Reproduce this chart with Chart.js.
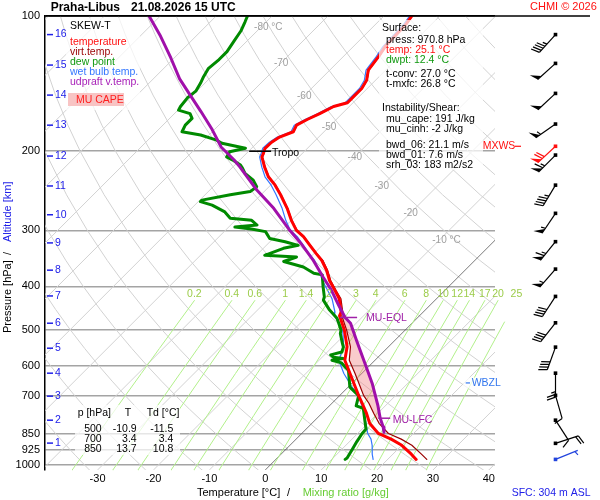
<!DOCTYPE html>
<html lang="cs">
<head>
<meta charset="utf-8">
<title>Praha-Libus skew-T</title>
<script src="https://cdn.jsdelivr.net/npm/chart.js@4.4.1/dist/chart.umd.min.js"></script>
<style>
  html, body { margin: 0; padding: 0; background: #fff; }
  canvas { display: block; }
</style>
</head>
<body>
<canvas id="skewt" width="600" height="500"></canvas>
<script>
// sounding (p in hPa, temperatures in degC)
const tempP = [100, 104, 117, 123, 132, 139, 145, 151, 156, 159, 165, 170, 175, 181, 186, 191, 197, 202, 206, 217,
    228, 238, 250, 268, 285, 300, 310, 324, 338, 350, 368, 388, 408, 426, 456, 465, 500, 545, 584, 625,
    669, 700, 728, 767, 808, 850, 875, 903, 945, 970.8];
const tempT = [-55.0, -54.6, -54.3, -53.7, -53.1, -51.6, -51.0, -51.0, -51.0, -52.8, -54.0, -55.2, -56.1, -55.5, -57.0, -57.5, -57.6, -57.0, -56.6, -54.3,
    -51.9, -49.2, -46.5, -42.9, -40.0, -37.3, -34.9, -32.2, -29.6, -27.4, -24.8, -22.4, -19.7, -17.4, -14.7, -14.3, -10.9, -7.4, -5.4, -2.1,
    1.2, 3.4, 5.4, 8.0, 10.4, 13.7, 17.0, 20.0, 23.3, 25.1];
const virtT = [-54.9, -54.5, -54.2, -53.6, -53.0, -51.5, -50.9, -50.9, -50.9, -52.7, -53.9, -55.1, -56.0, -55.4, -56.9, -57.4, -57.5, -56.9, -56.5, -54.2,
    -51.8, -49.1, -46.4, -42.8, -39.9, -37.2, -34.8, -32.1, -29.5, -27.2, -24.6, -22.2, -19.5, -17.1, -14.4, -13.9, -10.5, -6.8, -4.6, -1.2,
    2.1, 4.3, 6.6, 9.3, 12.1, 15.5, 18.8, 21.8, 25.1, 27.0];
const wetT = [-55.4, -55.0, -54.7, -54.1, -53.5, -52.0, -51.4, -51.4, -51.4, -53.2, -54.4, -55.6, -56.5, -55.9, -57.4, -57.9, -58.0, -57.4, -57.0, -54.8,
    -52.5, -49.9, -47.3, -43.8, -41.0, -38.4, -36.0, -33.4, -30.9, -28.7, -26.1, -23.7, -21.0, -18.7, -15.8, -15.2, -11.2, -8.0, -6.5, -3.2,
    0.6, 3.4, 5.2, 7.6, 9.7, 11.8, 13.4, 14.7, 16.3, 17.4];

const dewP = [100, 103, 108, 114, 120, 125, 131, 136.5, 141, 147, 152, 159, 162, 165, 169, 175, 181, 184, 189, 192,
    197, 200.5, 206, 209, 214.6, 218, 224, 232, 240, 246, 250, 257, 259, 263.6, 273, 282, 285, 292, 295, 298,
    302, 313, 318, 324, 329, 341, 344, 352, 362, 374, 377, 400, 422, 429, 450, 471, 480, 500, 509, 535,
    546, 560, 568, 575, 579, 584, 592, 604, 614, 670, 700, 738, 747, 794, 831, 850, 886, 923, 964, 970.8];
const dewT = [-84.4, -83.8, -82.9, -82.3, -81.7, -81.7, -82.0, -81.4, -80.8, -80.2, -80.5, -80.2, -79.9, -77.2, -76.0, -76.0, -75.4, -71.5, -67.7, -66.2,
    -61.1, -63.3, -62.9, -61.4, -59.0, -58.1, -56.7, -54.0, -52.2, -52.5, -55.5, -59.6, -59.6, -56.9, -53.4, -51.3, -47.1, -45.3, -48.9, -45.6,
    -42.6, -40.6, -37.3, -34.3, -36.4, -38.5, -32.5, -34.0, -29.5, -26.5, -24.7, -22.5, -20.4, -20.0, -17.3, -14.3, -13.4, -11.5, -11.0, -8.9,
    -8.0, -7.4, -8.9, -8.0, -6.0, -7.7, -5.5, -4.2, -3.0, 0.3, 3.4, 4.8, 6.5, 8.9, 10.7, 10.8, 11.3, 11.9, 12.5, 12.4];

// most unstable parcel (virtual temperature)
const parcelP = [100, 111, 124, 138, 150, 163, 179, 196, 209, 217, 244, 268, 300, 320, 350, 381, 408, 440, 469, 483,
    527, 594, 657, 738, 786, 822, 845];
const parcelT = [-102.0, -96.3, -90.6, -85.3, -80.5, -75.7, -70.4, -65.6, -61.1, -58.7, -51.6, -45.3, -38.5, -34.3, -28.9, -24.2, -20.3, -16.4, -13.0, -11.0,
    -6.9, -1.2, 3.6, 8.7, 11.3, 13.4, 14.5];
const eqlP = 469;
const lfcP = 786;
const tropoP = 200;
const wbzlP = 656;

// winds (direction in deg, speed in kt)
const windP = [110, 127.5, 148.7, 174, 195, 204, 238, 275, 318, 366, 421, 482, 546, 624, 699, 794, 894, 970.8];
const windDir = [222, 228, 227, 235, 227, 225, 211, 214, 219, 221, 213, 218, 200, 180, 164, 147, 72, 68];
const windKt = [45, 50, 50, 55, 70, 65, 45, 55, 65, 55, 40, 40, 40, 25, 10, 10, 20, 4];
const mxwsIndex = 4;

// axes and background lines
const pressureTicks = [100, 200, 300, 400, 500, 600, 700, 850, 925, 1000];
const tempTicks = [-30, -20, -10, 0, 10, 20, 30, 40];
const altKm = [1, 2, 3, 4, 5, 6, 7, 8, 9, 10, 11, 12, 13, 14, 15, 16];
const altP = [893, 794, 702, 624, 549, 483, 420, 368, 320, 277, 239, 205, 175, 150, 128.6, 110];
const isoT = [-120, -110, -100, -90, -80, -70, -60, -50, -40, -30, -20, -10, 0, 10, 20, 30, 40];
const isoLabelT = [-80, -70, -60, -50, -40, -30, -20, -10];
const isoLabelP = [105.8, 127.3, 150.6, 176.6, 206.1, 239.1, 274.6, 315.4];
const isoLabelText = ['-80 °C', '-70', '-60', '-50', '-40', '-30', '-20', '-10 °C'];
const dryTheta = [230, 240, 250, 260, 270, 280, 290, 300, 310, 320, 330, 340, 350, 360, 370, 380, 390, 400, 410, 420, 430, 440, 450];
const adiabatP = [1025, 1000, 950, 900, 850, 800, 750, 700, 650, 600, 550, 500, 450, 400, 350, 300, 250, 200, 175, 150, 125, 110, 100];
const mixW = [0.2, 0.4, 0.6, 1, 1.4, 2, 3, 4, 6, 8, 10, 12, 14, 17, 20, 25];
const mixLabels = ['0.2', '0.4', '0.6', '1', '1.4', '2', '3', '4', '6', '8', '10', '12', '14', '17', '20', '25'];
const mixP = [1025, 1000, 925, 850, 775, 700, 625, 550, 480, 430];

// level table
const tableP = [500, 700, 850];
const tableT = ['-10.9', '3.4', '13.7'];
const tableTd = ['-11.5', '3.4', '10.8'];

const legendText = ['temperature', 'virt.temp.', 'dew point', 'wet bulb temp.', 'udpraft v.temp.'];
const legendColor = ['#ff1010', '#990000', '#109910', '#3377ff', '#a820b8'];

const FONT = '"Liberation Sans", Arial, sans-serif';
const BLUE = '#2020e8';
const P_TOP = 100, P_BOT = 1025;
const X_MIN = -39.4, X_MAX = 41.1;
const SKEW = 34.9;   // degC of shift per unit of ln(p)

Chart.defaults.font.family = FONT;

const skewX = (t, p) => t + SKEW * Math.log(P_BOT / p);
const pts = (ps, ts) => ps.map((p, i) => ({ x: skewX(ts[i], p), y: p }));

function interpAt(ps, ts, p) {
    for (let i = 0; i < ps.length - 1; i++) {
        if (p >= ps[i] && p <= ps[i + 1]) {
            const f = Math.log(p / ps[i]) / Math.log(ps[i + 1] / ps[i]);
            return ts[i] + f * (ts[i + 1] - ts[i]);
        }
    }
    return ts[ts.length - 1];
}

function dewFromMix(w, p) {
    const e = w * p / (622 + w);
    const a = Math.log(e / 6.112);
    return 243.5 * a / (17.67 - a);
}

const thetaT = (th, p) => th * Math.pow(p / 1000, 0.286) - 273.15;

const line = (data, color, width, order, extra = {}) => Object.assign({
    data,
    borderColor: color,
    borderWidth: width,
    pointRadius: 0,
    tension: 0,
    fill: false,
    order,
    borderJoinStyle: 'round',
    borderCapStyle: 'round',
}, extra);

const datasets = [];

isoT.forEach(t => datasets.push(line(
    [{ x: skewX(t, P_BOT), y: P_BOT }, { x: skewX(t, P_TOP), y: P_TOP }],
    t === 0 ? '#555555' : '#d2d2d2', t === 0 ? 0.8 : 1, 20)));

dryTheta.forEach(th => datasets.push(line(
    adiabatP.map(p => ({ x: skewX(thetaT(th, p), p), y: p })), '#d2d2d2', 1, 20)));

mixW.forEach(w => datasets.push(line(
    mixP.map(p => ({ x: skewX(dewFromMix(w, p), p), y: p })), '#b2f08a', 1, 19, { clip: false })));

// CAPE area between parcel and environment virtual temperature
const capePts = [{ x: skewX(interpAt(parcelP, parcelT, lfcP), lfcP), y: lfcP }];
for (let i = parcelP.length - 1; i >= 0; i--) {
    if (parcelP[i] < lfcP && parcelP[i] > eqlP) capePts.push({ x: skewX(parcelT[i], parcelP[i]), y: parcelP[i] });
}
capePts.push({ x: skewX(interpAt(parcelP, parcelT, eqlP), eqlP), y: eqlP });
capePts.push({ x: skewX(interpAt(tempP, virtT, eqlP), eqlP), y: eqlP });
tempP.forEach((p, i) => {
    if (p > eqlP && p < lfcP) capePts.push({ x: skewX(virtT[i], p), y: p });
});
capePts.push({ x: skewX(interpAt(tempP, virtT, lfcP), lfcP), y: lfcP });
datasets.push(line(capePts, 'rgba(0,0,0,0)', 0, 15, { fill: 'shape', backgroundColor: 'rgba(240,120,120,0.38)' }));

datasets.push(line(pts(tempP, wetT), '#3377ff', 1.2, 5));
datasets.push(line(pts(dewP, dewT), '#008a00', 3, 4));
datasets.push(line(pts(tempP, virtT), '#990000', 1.2, 3));
datasets.push(line(pts(tempP, tempT), '#ff0000', 3, 2));
datasets.push(line(pts(parcelP, parcelT), '#a010aa', 3, 1));

function drawBarb(ctx, x, y, dir, kt, color) {
    const r = dir * Math.PI / 180;
    const ux = Math.sin(r), uy = -Math.cos(r);
    const L = 24, F = 9;
    const ex = x + ux * L, ey = y + uy * L;
    let fx = -uy + 0.35 * ux, fy = ux + 0.35 * uy;
    const fl = Math.hypot(fx, fy);
    fx /= fl; fy /= fl;

    ctx.strokeStyle = color;
    ctx.fillStyle = color;
    ctx.lineWidth = 1.2;
    ctx.beginPath();
    ctx.moveTo(x, y);
    ctx.lineTo(ex, ey);
    ctx.stroke();
    ctx.fillRect(x - 1.8, y - 1.8, 3.6, 3.6);

    let rest = Math.round(kt / 5) * 5;
    let pos = 0;
    while (rest >= 50) {
        const bx = ex - ux * pos, by = ey - uy * pos;
        ctx.beginPath();
        ctx.moveTo(bx, by);
        ctx.lineTo(bx + fx * F, by + fy * F);
        ctx.lineTo(bx - ux * 5, by - uy * 5);
        ctx.closePath();
        ctx.fill();
        pos += 6;
        rest -= 50;
    }
    while (rest >= 10) {
        const bx = ex - ux * pos, by = ey - uy * pos;
        ctx.beginPath();
        ctx.moveTo(bx, by);
        ctx.lineTo(bx + fx * F, by + fy * F);
        ctx.stroke();
        pos += 2.8;
        rest -= 10;
    }
    if (rest >= 5) {
        if (pos === 0) pos = 3;
        const bx = ex - ux * pos, by = ey - uy * pos;
        ctx.beginPath();
        ctx.moveTo(bx, by);
        ctx.lineTo(bx + fx * F / 2, by + fy * F / 2);
        ctx.stroke();
    }
}

const overlay = {
    id: 'overlay',
    afterDatasetsDraw(chart) {
        const { ctx, chartArea } = chart;
        const xs = chart.scales.x, ys = chart.scales.y;
        const px = (t, p) => xs.getPixelForValue(skewX(t, p));
        const py = p => ys.getPixelForValue(p);
        const text = (s, x, y, color, opts = {}) => {
            ctx.font = `${opts.bold ? 'bold ' : ''}${opts.size || 10.5}px ${FONT}`;
            ctx.fillStyle = color;
            ctx.textAlign = opts.align || 'left';
            ctx.textBaseline = 'middle';
            ctx.fillText(s, x, y);
            return ctx.measureText(s).width;
        };
        const seg = (x1, y1, x2, y2, color, w = 1) => {
            ctx.strokeStyle = color;
            ctx.lineWidth = w;
            ctx.beginPath();
            ctx.moveTo(x1, y1);
            ctx.lineTo(x2, y2);
            ctx.stroke();
        };

        ctx.save();

        // top frame line runs over the wind column
        seg(chartArea.left, py(P_TOP), 590, py(P_TOP), '#000', 1.5);

        isoLabelT.forEach((t, i) => text(isoLabelText[i], px(t, isoLabelP[i]) - 7, py(isoLabelP[i]), '#a0a0a0', { size: 10 }));

        const pMixTop = mixP[mixP.length - 1];
        mixW.forEach((w, i) => text(mixLabels[i], px(dewFromMix(w, pMixTop), pMixTop), py(pMixTop) - 6, '#9ccc4a', { align: 'center' }));

        altKm.forEach((km, i) => {
            const y = py(altP[i]);
            seg(47, y, 53, y, BLUE, 1.5);
            text(String(km), 55, y, BLUE);
        });

        // translucent boxes
        ctx.fillStyle = 'rgba(255,255,255,0.72)';
        ctx.fillRect(66, 18, 74, 92);
        ctx.fillRect(379, 20, 104, 150);
        ctx.fillRect(75, 405, 105, 50);
        ctx.fillRect(463, py(wbzlP) - 5.5, 45, 11);

        // legend
        text('SKEW-T', 70, 26, '#000');
        legendText.forEach((s, i) => text(s, 70, 42 + i * 10, legendColor[i]));
        ctx.fillStyle = '#f8c4c4';
        ctx.fillRect(68, 93, 56, 13);
        text('MU CAPE', 76, 100, '#ff2020');

        // surface and instability info
        text('Surface:', 382, 27.7, '#000');
        text('press: 970.8 hPa', 386, 40, '#000');
        text('temp: 25.1 °C', 386, 50, '#ff1010');
        text('dwpt: 12.4 °C', 386, 60, '#109910');
        text('t-conv: 27.0 °C', 386, 74, '#000');
        text('t-mxfc: 26.8 °C', 386, 84.3, '#000');
        text('Instability/Shear:', 382, 108.3, '#000');
        text('mu_cape: 191 J/kg', 386, 119, '#000');
        text('mu_cinh: -2 J/kg', 386, 129.3, '#000');
        text('bwd_06: 21.1 m/s', 386, 145, '#000');
        text('bwd_01: 7.6 m/s', 386, 155, '#000');
        text('srh_03: 183 m2/s2', 386, 165, '#000');

        // level table
        text('p [hPa]', 77.7, 413.3, '#000');
        text('T', 128, 413.3, '#000', { align: 'center' });
        text('Td [°C]', 146.7, 413.3, '#000');
        tableP.forEach((p, i) => {
            const y = 429 + i * 10;
            text(String(p), 101.7, y, '#000', { align: 'right' });
            text(tableT[i], 136.7, y, '#000', { align: 'right' });
            text(tableTd[i], 173.3, y, '#000', { align: 'right' });
        });

        // tropopause, EQL, LFC, WBZL
        const yTropo = py(tropoP);
        const xTropo = px(interpAt(tempP, tempT, tropoP), tropoP);
        seg(xTropo - 15, yTropo, xTropo + 7, yTropo, '#000', 1.5);
        text('Tropo', xTropo + 8, yTropo + 1.5, '#000');

        const PURPLE = '#a020a8';
        const yEql = py(eqlP), xEql = px(interpAt(parcelP, parcelT, eqlP), eqlP);
        seg(xEql - 5, yEql, xEql + 12, yEql, PURPLE, 1.5);
        text('MU-EQL', xEql + 21, yEql + 1, PURPLE);

        const yLfc = py(lfcP), xLfc = px(interpAt(parcelP, parcelT, lfcP), lfcP);
        seg(xLfc - 2, yLfc, xLfc + 10, yLfc, PURPLE, 1.5);
        text('MU-LFC', xLfc + 12.5, yLfc + 1.5, PURPLE);

        const yW = py(wbzlP);
        seg(465.7, yW, 470, yW, '#3377ee', 1.2);
        text('WBZL', 471.7, yW, '#3377ee');

        // wind barbs
        windP.forEach((p, i) => {
            let color = '#000';
            if (i === mxwsIndex) color = '#ff1010';
            if (i === windP.length - 1) color = '#2244dd';
            drawBarb(ctx, 555.5, py(p), windDir[i], windKt[i], color);
        });
        const yMx = py(windP[mxwsIndex]);
        text('MXWS', 482.7, yMx, '#ff1010');
        seg(515, yMx, 521, yMx, '#ff1010', 1.2);

        // axis titles
        ctx.save();
        ctx.translate(8, 258);
        ctx.rotate(-Math.PI / 2);
        text('Pressure [hPa]', -75, 0, '#000', { size: 11 });
        text('/', 3, 0, '#000', { size: 11 });
        text('Altitude [km]', 16, 0, BLUE, { size: 11 });
        ctx.restore();

        text('Temperature [°C]', 197, 492.7, '#000', { size: 11 });
        text('/', 287, 492.7, '#000', { size: 11 });
        text('Mixing ratio [g/kg]', 302.7, 492.7, '#66cc33', { size: 11 });

        text('SFC: 304 m ASL', 511.7, 492.7, BLUE);

        // header
        text('Praha-Libus', 50.7, 7.5, '#000', { size: 12, bold: true });
        text('21.08.2026 15 UTC', 131, 7.5, '#000', { size: 12, bold: true });
        text('CHMI © 2026', 530, 7, '#ff1010', { size: 11 });

        ctx.restore();
    }
};

new Chart(document.getElementById('skewt'), {
    type: 'line',
    data: { datasets },
    options: {
        responsive: false,
        animation: false,
        events: [],
        layout: { padding: { left: 0, right: 105, top: 16, bottom: 0 } },
        plugins: {
            legend: { display: false },
            tooltip: { enabled: false },
        },
        scales: {
            x: {
                type: 'linear',
                min: X_MIN,
                max: X_MAX,
                afterBuildTicks: s => { s.ticks = tempTicks.map(v => ({ value: v })); },
                afterFit: s => { s.height = 30; },
                grid: { display: false, drawTicks: false },
                border: { display: false },
                ticks: { color: '#000', font: { size: 11 }, padding: 2, maxRotation: 0, autoSkip: false },
            },
            y: {
                type: 'logarithmic',
                reverse: true,
                min: P_TOP,
                max: P_BOT,
                afterBuildTicks: s => { s.ticks = pressureTicks.map(v => ({ value: v })); },
                afterFit: s => { s.width = 45; },
                grid: {
                    color: c => (c.tick && c.tick.value === 100 ? '#000' : '#a4a4a4'),
                    lineWidth: 1.5,
                    drawTicks: false,
                },
                border: { display: true, color: '#000', width: 1.5 },
                ticks: { color: '#000', font: { size: 11 }, padding: 5, autoSkip: false, callback: v => String(v) },
            },
        },
    },
    plugins: [overlay],
});
</script>
</body>
</html>
